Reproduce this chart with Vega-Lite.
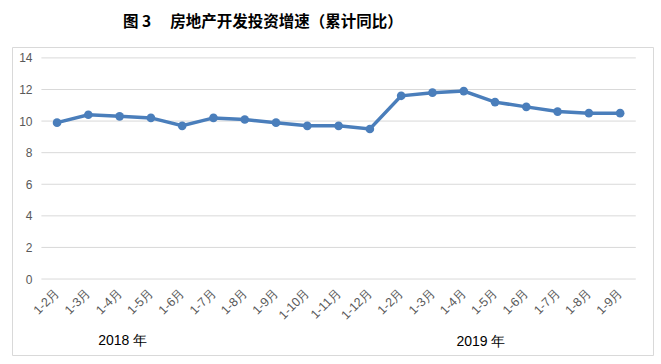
{
  "$schema": "https://vega.github.io/schema/vega-lite/v6.json",
  "width": 641,
  "height": 308,
  "autosize": {"type": "none"},
  "padding": {"left": 12, "top": 47, "right": 8, "bottom": 9},
  "background": "white",
  "config": {
    "view": {"stroke": "#D9D9D9", "strokeWidth": 1},
    "axisX": {
      "title": null,
      "labelExpr": "['1-2月','1-3月','1-4月','1-5月','1-6月','1-7月','1-8月','1-9月','1-10月','1-11月','1-12月','1-2月','1-3月','1-4月','1-5月','1-6月','1-7月','1-8月','1-9月'][datum.value]",
      "offset": -76,
      "domain": false,
      "ticks": false,
      "grid": false,
      "labelAngle": -45,
      "labelAlign": "right",
      "labelBaseline": "middle",
      "labelPadding": 11,
      "labelFont": "Liberation Sans",
      "labelFontSize": 12.5,
      "labelColor": "#595959",
      "labelOverlap": false,
      "labelFlush": false,
      "labelBound": false
    },
    "axisY": {
      "title": null,
      "offset": -28,
      "domain": false,
      "ticks": false,
      "grid": false,
      "labelPadding": 8,
      "labelFont": "Liberation Sans",
      "labelFontSize": 12,
      "labelColor": "#595959"
    }
  },
  "title": {
    "text": "图 3 　房地产开发投资增速（累计同比）",
    "anchor": "start",
    "frame": "group",
    "dx": 111,
    "offset": 17,
    "font": "Noto Sans CJK SC",
    "fontSize": 15.5,
    "fontWeight": "bold",
    "color": "#000000"
  },
  "datasets": {
    "growth": [
      {"i": 0, "year": "2018", "month": "1-2月", "value": 9.9},
      {"i": 1, "year": "2018", "month": "1-3月", "value": 10.4},
      {"i": 2, "year": "2018", "month": "1-4月", "value": 10.3},
      {"i": 3, "year": "2018", "month": "1-5月", "value": 10.2},
      {"i": 4, "year": "2018", "month": "1-6月", "value": 9.7},
      {"i": 5, "year": "2018", "month": "1-7月", "value": 10.2},
      {"i": 6, "year": "2018", "month": "1-8月", "value": 10.1},
      {"i": 7, "year": "2018", "month": "1-9月", "value": 9.9},
      {"i": 8, "year": "2018", "month": "1-10月", "value": 9.7},
      {"i": 9, "year": "2018", "month": "1-11月", "value": 9.7},
      {"i": 10, "year": "2018", "month": "1-12月", "value": 9.5},
      {"i": 11, "year": "2019", "month": "1-2月", "value": 11.6},
      {"i": 12, "year": "2019", "month": "1-3月", "value": 11.8},
      {"i": 13, "year": "2019", "month": "1-4月", "value": 11.9},
      {"i": 14, "year": "2019", "month": "1-5月", "value": 11.2},
      {"i": 15, "year": "2019", "month": "1-6月", "value": 10.9},
      {"i": 16, "year": "2019", "month": "1-7月", "value": 10.6},
      {"i": 17, "year": "2019", "month": "1-8月", "value": 10.5},
      {"i": 18, "year": "2019", "month": "1-9月", "value": 10.5}
    ],
    "grid": [{"g": 0}, {"g": 2}, {"g": 4}, {"g": 6}, {"g": 8}, {"g": 10}, {"g": 12}, {"g": 14}]
  },
  "layer": [
    {
      "data": {"name": "grid"},
      "mark": {"type": "rule", "color": "#D9D9D9", "strokeWidth": 1},
      "encoding": {
        "y": {"field": "g", "type": "quantitative", "scale": {"domain": [-4.81, 14.69], "nice": false, "zero": false}, "axis": {"labelOverlap": false, "values": [0, 2, 4, 6, 8, 10, 12, 14]}},
        "x": {"datum": -0.5, "type": "quantitative", "scale": {"domain": [-1.44, 19.05], "nice": false, "zero": false}, "axis": {"labelOverlap": false}},
        "x2": {"datum": 18.5}
      }
    },
    {
      "data": {"name": "growth"},
      "mark": {
        "type": "line",
        "color": "#4A7EBB",
        "strokeWidth": 3.5,
        "point": {"filled": true, "size": 75, "color": "#4A7EBB", "opacity": 1}
      },
      "encoding": {
        "x": {"field": "i", "type": "quantitative", "scale": {"domain": [-1.44, 19.05], "nice": false, "zero": false}, "axis": {"labelOverlap": false}},
        "y": {"field": "value", "type": "quantitative", "scale": {"domain": [-4.81, 14.69], "nice": false, "zero": false}, "axis": {"labelOverlap": false, "values": [0, 2, 4, 6, 8, 10, 12, 14]}}
      }
    },
    {
      "data": {"values": [{"t": "2018 年"}]},
      "mark": {"type": "text", "font": "Liberation Sans", "fontSize": 14, "color": "#000000", "align": "center", "baseline": "middle"},
      "encoding": {
        "text": {"field": "t"},
        "x": {"datum": 2.1, "type": "quantitative", "axis": {"labelOverlap": false}},
        "y": {"datum": -3.93, "type": "quantitative", "axis": {"labelOverlap": false, "values": [0, 2, 4, 6, 8, 10, 12, 14]}}
      }
    },
    {
      "data": {"values": [{"t": "2019 年"}]},
      "mark": {"type": "text", "font": "Liberation Sans", "fontSize": 14, "color": "#000000", "align": "center", "baseline": "middle"},
      "encoding": {
        "text": {"field": "t"},
        "x": {"datum": 13.55, "type": "quantitative", "axis": {"labelOverlap": false}},
        "y": {"datum": -4.0, "type": "quantitative", "axis": {"labelOverlap": false, "values": [0, 2, 4, 6, 8, 10, 12, 14]}}
      }
    }
  ]
}
